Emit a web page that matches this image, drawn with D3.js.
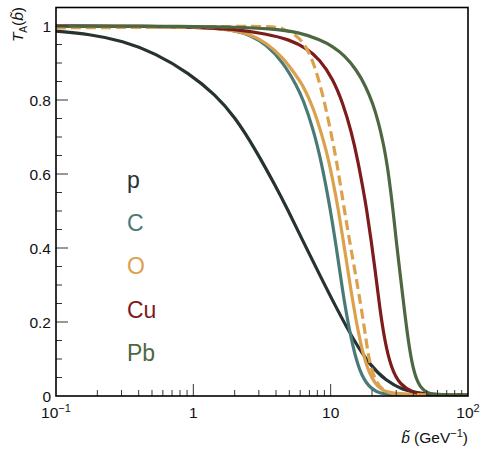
<!DOCTYPE html>
<html><head><meta charset="utf-8">
<script src="https://cdn.jsdelivr.net/npm/d3@7"></script>
<style>body{margin:0;background:#fff}svg{display:block}text{font-family:"Liberation Sans",Arial,Helvetica,sans-serif}</style>
</head><body><svg id="c" width="486" height="452"></svg>
<script>
// ---- data ----
const legendLabels = ["p", "C", "O", "Cu", "Pb"];
const xTickLabels = ["10^-1", "1", "10", "10^2"];
const yTickLabels = ["0", "0.2", "0.4", "0.6", "0.8", "1"];

const pB = [0.1, 0.175, 0.305, 0.533, 0.933, 1.45, 2.0, 2.85, 4.0, 4.8, 6.3, 8.3, 11.0, 15.0, 19.2, 25.4, 33.4, 44, 66, 100];
const pT = [0.986, 0.978, 0.960, 0.926, 0.872, 0.814, 0.755, 0.665, 0.565, 0.508, 0.418, 0.328, 0.238, 0.145, 0.085, 0.040, 0.017, 0.007, 0.003, 0.002];

const cB = [0.1, 0.5, 1.0, 1.5, 2.0, 2.58, 3.40, 4.50, 5.63, 6.30, 7.43, 8.55, 9.92, 11.3, 12.64, 14.53, 16.25, 18.67, 22.7, 28.3, 100];
const cT = [1.0, 0.999, 0.998, 0.994, 0.988, 0.976, 0.950, 0.902, 0.840, 0.802, 0.724, 0.634, 0.508, 0.373, 0.245, 0.130, 0.067, 0.026, 0.006, 0.003, 0.003];

const oB = [0.1, 0.5, 1.0, 1.5, 2.0, 2.58, 3.40, 4.50, 5.63, 6.30, 7.04, 7.87, 9.31, 10.34, 11.34, 12.85, 14.53, 16.72, 19.2, 22.7, 28.3, 100];
const oT = [1.0, 0.999, 0.997, 0.993, 0.987, 0.978, 0.955, 0.915, 0.865, 0.838, 0.800, 0.755, 0.665, 0.585, 0.508, 0.380, 0.250, 0.128, 0.056, 0.017, 0.004, 0.003];

const odB = [0.1, 1.0, 2.0, 3.5, 4.50, 5.95, 7.04, 7.87, 8.79, 9.83, 11.06, 12.43, 13.74, 15.2, 16.72, 18.18, 19.2, 21.5, 25.4, 31.8, 100];
const odT = [0.995, 0.997, 0.999, 0.999, 0.995, 0.970, 0.927, 0.877, 0.812, 0.730, 0.635, 0.515, 0.418, 0.328, 0.238, 0.148, 0.088, 0.033, 0.008, 0.003, 0.003];

const cuB = [0.1, 0.5, 1.0, 1.95, 3.40, 5.03, 6.66, 8.32, 10.39, 12.29, 14.14, 15.8, 17.17, 18.27, 19.77, 21.25, 22.7, 24.7, 27.6, 31.8, 39.7, 49.7, 100];
const cuT = [1.0, 0.999, 0.997, 0.992, 0.979, 0.963, 0.940, 0.910, 0.857, 0.791, 0.715, 0.635, 0.562, 0.505, 0.418, 0.330, 0.242, 0.150, 0.075, 0.031, 0.009, 0.003, 0.003];

const pbB = [0.1, 1.0, 2.0, 3.6, 5.95, 8.32, 10.39, 12.64, 15.38, 17.97, 20.3, 22.3, 24.3, 25.97, 27.3, 28.5, 30.05, 32.1, 34.1, 36.5, 39.7, 44.4, 52.5, 62, 100];
const pbT = [1.0, 0.999, 0.997, 0.993, 0.983, 0.963, 0.945, 0.920, 0.882, 0.838, 0.790, 0.740, 0.680, 0.618, 0.556, 0.500, 0.418, 0.328, 0.245, 0.155, 0.072, 0.022, 0.005, 0.003, 0.003];

const colors = {p: "#273232", C: "#4a7a78", O: "#dba14d", Cu: "#7e1b1b", Pb: "#4e6743"};

// ---- drawing ----
const svg = d3.select("#c");
const L = 56, R = 468, T0 = 7.5, B = 396;
const x = d3.scaleLog().domain([0.1, 100]).range([L, R]);
const y = d3.scaleLinear().domain([0, 1.05]).range([B, T0]);

svg.append("defs").append("clipPath").attr("id", "clip")
  .append("rect").attr("x", L).attr("y", T0).attr("width", R - L).attr("height", B - T0);

const line = d3.line().x(d => x(d[0])).y(d => y(d[1])).curve(d3.curveBasis);
const zip = (a, b) => a.map((v, i) => [v, b[i]]);

const series = [
  {name: "p", pts: zip(pB, pT), color: colors.p},
  {name: "C", pts: zip(cB, cT), color: colors.C},
  {name: "O", pts: zip(oB, oT), color: colors.O},
  {name: "Cu", pts: zip(cuB, cuT), color: colors.Cu},
  {name: "O (dashed)", pts: zip(odB, odT), color: colors.O, dash: "10,5"},
  {name: "Pb", pts: zip(pbB, pbT), color: colors.Pb}
];

const g = svg.append("g").attr("clip-path", "url(#clip)");
series.forEach(s => {
  g.append("path").datum(s.pts).attr("d", line)
    .attr("fill", "none").attr("stroke", s.color).attr("stroke-width", 3.2)
    .attr("stroke-dasharray", s.dash || null).attr("stroke-linejoin", "round");
});

// ticks
const tk = svg.append("g").attr("stroke", "#333").attr("stroke-width", 1);
const xMinor = [];
[0.1, 1, 10].forEach(d => { for (let k = 2; k <= 9; k++) xMinor.push(d * k); });
xMinor.forEach(v => tk.append("line").attr("x1", x(v)).attr("x2", x(v)).attr("y1", B).attr("y2", B - 6));
[1, 10].forEach(v => tk.append("line").attr("x1", x(v)).attr("x2", x(v)).attr("y1", B).attr("y2", B - 12));
for (let i = 1; i <= 21; i++) {
  const v = i * 0.05;
  const major = i % 4 === 0;
  tk.append("line").attr("x1", L).attr("x2", L + (major ? 12 : 6)).attr("y1", y(v)).attr("y2", y(v));
}

// frame
svg.append("rect").attr("x", L).attr("y", T0).attr("width", R - L).attr("height", B - T0)
  .attr("fill", "none").attr("stroke", "#000").attr("stroke-width", 1.6);

// x tick labels
const xVals = [0.1, 1, 10, 100];
xTickLabels.forEach((lab, i) => {
  const t = svg.append("text").attr("x", x(xVals[i])).attr("y", 418).attr("font-size", 15.5)
    .attr("text-anchor", "middle").attr("fill", "#111");
  const parts = lab.split("^");
  t.append("tspan").text(parts[0]);
  if (parts[1]) t.append("tspan").attr("dy", -6).attr("font-size", 11).text(parts[1].replace("-", "\u2212"));
});
// y tick labels
yTickLabels.forEach((lab, i) => {
  svg.append("text").attr("x", 51).attr("y", y(i * 0.2) + 5.5).attr("font-size", 15.5)
    .attr("text-anchor", "end").attr("fill", "#111").text(lab);
});

// x axis title
const xt = svg.append("text").attr("x", 468).attr("y", 443).attr("font-size", 15.5)
  .attr("text-anchor", "end").attr("fill", "#111");
xt.append("tspan").attr("font-style", "italic").text("b\u0303");
xt.append("tspan").text(" (GeV");
xt.append("tspan").attr("dy", -6).attr("font-size", 11).text("\u22121");
xt.append("tspan").attr("dy", 6).text(")");

// y axis title
const yt = svg.append("text").attr("transform", "translate(23,7) rotate(-90)")
  .attr("font-size", 15.5).attr("text-anchor", "end").attr("fill", "#111");
yt.append("tspan").attr("font-style", "italic").text("T");
yt.append("tspan").attr("dy", 4).attr("font-size", 10).text("A");
yt.append("tspan").attr("dy", -4).text("(");
yt.append("tspan").attr("font-style", "italic").text("b\u0303");
yt.append("tspan").text(")");

// legend labels
const legColors = [colors.p, colors.C, colors.O, colors.Cu, colors.Pb];
legendLabels.forEach((lab, i) => {
  svg.append("text").attr("x", 127).attr("y", 188 + i * 43.2).attr("font-size", 23)
    .attr("fill", legColors[i]).text(lab);
});
</script></body></html>
